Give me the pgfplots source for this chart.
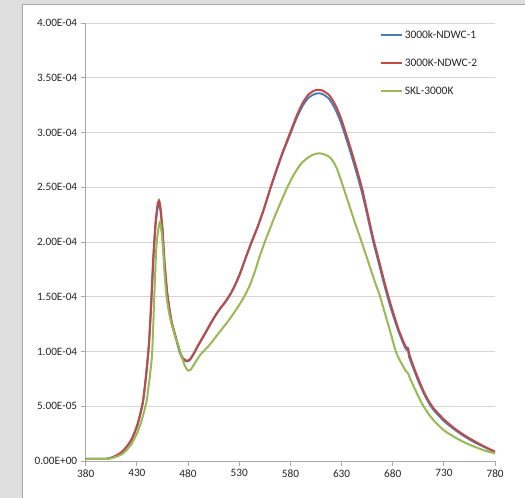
\documentclass[border=0pt]{standalone}
\usepackage{pgfplots}
\pgfplotsset{compat=1.18}
\usepackage{pgfplotstable}
\usepackage{fontspec}
\setmainfont{Carlito}
\definecolor{bgray}{HTML}{DEDEDE}
\definecolor{framegray}{HTML}{A6A6A6}
\definecolor{gridgray}{HTML}{D4D4D4}
\definecolor{axgray}{HTML}{A8A8A8}
\definecolor{sblue}{HTML}{4A7EBB}
\definecolor{sred}{HTML}{BE4B48}
\definecolor{sgreen}{HTML}{98B954}
\definecolor{txt}{HTML}{262626}

\pgfplotstableread{
wl red blue
380 0.02e-4 0.02e-4
390 0.02e-4 0.02e-4
400 0.02e-4 0.02e-4
405 0.03e-4 0.03e-4
410 0.05e-4 0.05e-4
415 0.08e-4 0.08e-4
420 0.13e-4 0.13e-4
425 0.20e-4 0.20e-4
430 0.32e-4 0.31e-4
433 0.42e-4 0.41e-4
436 0.55e-4 0.54e-4
438 0.70e-4 0.69e-4
440 0.88e-4 0.87e-4
442 1.10e-4 1.09e-4
444 1.45e-4 1.43e-4
446 1.85e-4 1.82e-4
448 2.15e-4 2.12e-4
450 2.33e-4 2.30e-4
451.6 2.38e-4 2.35e-4
453 2.32e-4 2.29e-4
455 2.12e-4 2.10e-4
457 1.82e-4 1.81e-4
459.5 1.55e-4 1.54e-4
462 1.38e-4 1.37e-4
464 1.27e-4 1.26e-4
466 1.20e-4 1.19e-4
469 1.10e-4 1.09e-4
472 1.00e-4 0.99e-4
475 0.94e-4 0.93e-4
479 0.915e-4 0.91e-4
482 0.93e-4 0.925e-4
486 0.99e-4 0.985e-4
490 1.06e-4 1.055e-4
495 1.14e-4 1.135e-4
501 1.24e-4 1.235e-4
506 1.32e-4 1.315e-4
511 1.39e-4 1.385e-4
516 1.45e-4 1.445e-4
521 1.52e-4 1.515e-4
526 1.61e-4 1.605e-4
531 1.72e-4 1.715e-4
536 1.85e-4 1.845e-4
542 2.00e-4 1.995e-4
548 2.14e-4 2.135e-4
554 2.30e-4 2.295e-4
560 2.48e-4 2.475e-4
566 2.65e-4 2.64e-4
572 2.81e-4 2.80e-4
579 2.98e-4 2.965e-4
586 3.15e-4 3.13e-4
592 3.27e-4 3.245e-4
598 3.35e-4 3.32e-4
604 3.385e-4 3.352e-4
608 3.39e-4 3.358e-4
612 3.38e-4 3.348e-4
618 3.34e-4 3.305e-4
624 3.25e-4 3.21e-4
629 3.14e-4 3.10e-4
634 3.00e-4 2.96e-4
640 2.82e-4 2.78e-4
645 2.66e-4 2.62e-4
650 2.49e-4 2.45e-4
655 2.28e-4 2.25e-4
661 2.03e-4 2.00e-4
666 1.85e-4 1.82e-4
672 1.63e-4 1.60e-4
678 1.43e-4 1.40e-4
685 1.22e-4 1.20e-4
690 1.10e-4 1.08e-4
693 1.04e-4 1.02e-4
695 1.03e-4 1.01e-4
696 0.98e-4 0.95e-4
700 0.87e-4 0.85e-4
705 0.75e-4 0.73e-4
710 0.64e-4 0.625e-4
715 0.55e-4 0.535e-4
720 0.48e-4 0.465e-4
730 0.38e-4 0.365e-4
740 0.30e-4 0.29e-4
750 0.235e-4 0.225e-4
760 0.18e-4 0.17e-4
770 0.13e-4 0.125e-4
780 0.085e-4 0.08e-4
}\tabRB

\pgfplotstableread{
wl green
380 0.02e-4
390 0.02e-4
400 0.02e-4
405 0.025e-4
410 0.04e-4
415 0.06e-4
420 0.10e-4
425 0.16e-4
430 0.25e-4
434 0.35e-4
437 0.45e-4
439.6 0.55e-4
441 0.65e-4
443 0.80e-4
445 1.00e-4
447 1.50e-4
449 1.95e-4
451 2.12e-4
452.6 2.185e-4
454 2.10e-4
455.5 1.95e-4
457 1.72e-4
459 1.50e-4
461.5 1.35e-4
464 1.25e-4
467 1.15e-4
470 1.07e-4
473 0.98e-4
476 0.89e-4
478 0.85e-4
480.2 0.825e-4
483 0.84e-4
487 0.90e-4
492 0.97e-4
497 1.02e-4
501 1.06e-4
506 1.12e-4
511 1.18e-4
516 1.24e-4
521 1.30e-4
526 1.37e-4
531 1.44e-4
536 1.52e-4
541 1.62e-4
546 1.75e-4
550 1.87e-4
555 2.00e-4
560 2.12e-4
565 2.24e-4
570 2.35e-4
576 2.48e-4
583 2.61e-4
590 2.71e-4
597 2.77e-4
603 2.80e-4
608 2.81e-4
613 2.80e-4
619 2.77e-4
625 2.68e-4
631.7 2.50e-4
638 2.32e-4
644 2.15e-4
650 1.99e-4
656 1.82e-4
662 1.65e-4
667 1.52e-4
672 1.36e-4
677 1.20e-4
683 1.00e-4
688 0.90e-4
693 0.82e-4
695 0.80e-4
697 0.75e-4
700 0.69e-4
705 0.59e-4
710 0.50e-4
715 0.43e-4
720 0.37e-4
730 0.28e-4
740 0.22e-4
750 0.17e-4
760 0.13e-4
770 0.095e-4
780 0.07e-4
}\tabG

\begin{document}
\begin{tikzpicture}[x=1bp,y=1bp]
\path[use as bounding box] (0,0) rectangle (525,498);
\fill[bgray] (0,0) rectangle (525,498);
\begin{scope}
\clip (0,0) rectangle (525,498);
\draw[framegray, fill=white, line width=1bp] (22.5,-5) rectangle (535,493.5);
\end{scope}
\begin{axis}[
  at={(85.7bp,37bp)}, anchor=south west,
  scale only axis, width=409.4bp, height=438bp,
  xmin=380, xmax=780, ymin=0, ymax=4e-4,
  xtick={380,430,...,780},
  ytick={0,0.00005,0.0001,0.00015,0.0002,0.00025,0.0003,0.00035,0.0004},
  yticklabels={0.00E+00,5.00E-05,1.00E-04,1.50E-04,2.00E-04,2.50E-04,3.00E-04,3.50E-04,4.00E-04},
  scaled y ticks=false, scaled x ticks=false,
  /pgf/number format/assume math mode=true,
  axis x line*=bottom, axis y line*=left,
  axis line style={axgray, line width=0.9bp},
  ymajorgrids, major grid style={gridgray, line width=0.9bp},
  tick style={axgray, line width=0.9bp}, tick align=outside, major tick length=5bp,
  ticklabel style={font=\fontsize{11.3}{13}\selectfont, text=txt},
  legend style={at={(axis description cs:0.719,0.987)}, anchor=north west,
    draw=none, fill=none, font=\fontsize{11.5}{13}\selectfont, row sep=16bp,
    inner sep=0pt, nodes={inner sep=1.5bp, text=txt}},
  legend cell align=left,
  legend image code/.code={\draw[#1, line width=2bp] (0bp,0bp) -- (21bp,0bp);},
]
\addplot[sblue, line width=2bp, smooth, tension=0.4] table[x=wl, y=blue] {\tabRB};
\addlegendentry{3000k-NDWC-1}
\addplot[sred, line width=2bp, smooth, tension=0.4] table[x=wl, y=red] {\tabRB};
\addlegendentry{3000K-NDWC-2}
\addplot[sgreen, line width=2bp, smooth, tension=0.4] table[x=wl, y=green] {\tabG};
\addlegendentry{SKL-3000K}
\end{axis}
\end{tikzpicture}
\end{document}
